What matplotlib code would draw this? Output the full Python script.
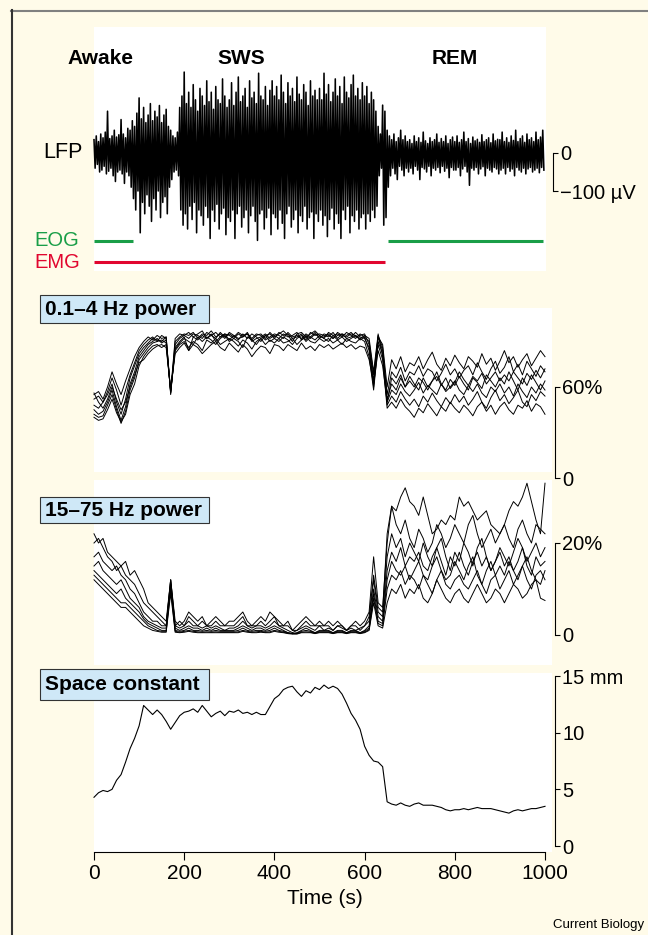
import numpy as np
import matplotlib.pyplot as plt
from matplotlib.patches import Rectangle
from matplotlib.lines import Line2D

plt.rcParams['font.family'] = ['Liberation Sans', 'DejaVu Sans']

# ---- datos ----
# LFP: envolvente (uV) en bins de 5 s
lfp_t = np.arange(0, 1000, 5)
lfp_hi = [35, 45, 30, 50, 40, 55, 110, 38, 45, 60, 42, 48, 88, 50, 40, 65, 60, 85, 70, 105,
          145, 90, 120, 80, 100, 130, 85, 110, 95, 125, 80, 100, 115, 70, 60, 45, 40, 55, 120, 150,
          213, 130, 160, 120, 180, 140, 110, 170, 150, 125, 190, 135, 160, 115, 175, 140, 130, 195, 150, 120,
          140, 185, 125, 160, 200, 135, 150, 170, 120, 190, 145, 160, 130, 210, 150, 140, 175, 125, 165, 190,
          150, 175, 140, 205, 160, 130, 185, 150, 170, 135, 200, 155, 140, 180, 160, 125, 190, 150, 165, 140,
          170, 140, 210, 155, 180, 135, 160, 195, 150, 175, 130, 200, 160, 145, 180, 205, 150, 170, 140, 185,
          150, 175, 130, 160, 140, 110, 70, 50, 126, 110, 60, 45, 35, 50, 30, 40, 60, 35, 45, 30,
          35, 25, 45, 30, 40, 28, 55, 32, 25, 40, 30, 35, 50, 28, 38, 30, 45, 25, 35, 42,
          30, 45, 28, 35, 55, 30, 38, 25, 42, 32, 36, 28, 48, 30, 35, 40, 27, 50, 32, 36,
          35, 55, 30, 40, 28, 45, 33, 60, 30, 38, 45, 28, 50, 35, 40, 30, 55, 35, 42, 60]
lfp_lo = [-40, -30, -50, -45, -35, -55, -48, -40, -60, -75, -50, -45, -55, -80, -50, -60, -90, -120, -150, -100,
          -210, -130, -160, -110, -140, -180, -120, -150, -100, -170, -130, -115, -160, -90, -70, -50, -45, -60, -150, -190,
          -160, -200, -140, -175, -130, -210, -150, -165, -190, -140, -170, -225, -150, -180, -135, -200, -160, -145, -215, -170,
          -180, -150, -225, -160, -140, -195, -170, -150, -210, -165, -140, -180, -230, -160, -150, -200, -170, -145, -215, -160,
          -170, -200, -150, -185, -225, -160, -140, -195, -175, -150, -210, -165, -180, -140, -200, -170, -155, -225, -160, -180,
          -150, -190, -165, -220, -175, -145, -200, -160, -185, -225, -150, -175, -140, -210, -165, -180, -150, -200, -170, -160,
          -200, -160, -180, -150, -170, -140, -60, -40, -190, -170, -90, -60, -40, -55, -70, -35, -45, -60, -40, -50,
          -40, -55, -35, -45, -70, -38, -42, -50, -35, -60, -40, -45, -38, -52, -35, -48, -40, -65, -38, -45,
          -45, -38, -60, -42, -35, -50, -85, -40, -45, -38, -55, -42, -36, -60, -40, -45, -50, -38, -42, -55,
          -45, -40, -55, -38, -48, -42, -60, -38, -45, -50, -40, -55, -42, -38, -50, -45, -40, -52, -38, -45]

# intervalos EOG / EMG (s)
eog_on = [(0, 87), (652, 996)]
emg_on = [(0, 645)]

# potencia 0.1-4 Hz (%), cada 10 s
t10 = np.arange(0, 1001, 10)
delta = [
    [55, 57, 52, 60, 70, 62, 55, 64, 72, 80, 86,
     90, 93, 91, 94, 92, 93, 57, 92, 95, 94,
     96, 93, 95, 97, 92, 94, 96, 93, 95, 94,
     92, 95, 93, 96, 91, 94, 95, 92, 96, 93,
     95, 97, 94, 90, 95, 96, 93, 95, 97, 94,
     92, 96, 94, 95, 93, 96, 94, 92, 95, 93,
     90, 68, 93, 88, 60, 78, 72, 80, 70, 76,
     74, 80, 72, 78, 83, 75, 71, 79, 74, 81,
     76, 72, 80, 77, 73, 82, 75, 79, 71, 77,
     84, 76, 80, 73, 78, 82, 74, 79, 84, 80],
    [52, 54, 50, 57, 66, 58, 48, 58, 68, 76, 84,
     88, 91, 93, 90, 94, 92, 56, 90, 93, 95,
     94, 96, 92, 95, 94, 97, 93, 95, 92, 96,
     94, 91, 95, 92, 95, 93, 90, 94, 95, 92,
     96, 94, 95, 92, 93, 95, 91, 96, 94, 95,
     94, 93, 96, 92, 95, 94, 96, 93, 94, 95,
     88, 64, 94, 86, 55, 70, 66, 73, 64, 70,
     68, 74, 67, 72, 70, 64, 69, 75, 68, 72,
     66, 71, 74, 68, 76, 70, 65, 72, 77, 69,
     73, 80, 70, 75, 68, 77, 72, 67, 74, 70],
    [48, 46, 50, 55, 62, 50, 42, 52, 66, 74, 82,
     86, 89, 92, 91, 90, 93, 55, 88, 92, 94,
     92, 95, 94, 92, 96, 94, 92, 96, 93, 95,
     93, 96, 94, 95, 92, 95, 94, 91, 93, 95,
     94, 92, 96, 93, 94, 92, 95, 93, 96, 92,
     95, 94, 92, 96, 94, 93, 95, 94, 92, 94,
     92, 70, 95, 80, 52, 62, 58, 66, 60, 67,
     62, 58, 66, 60, 64, 70, 62, 58, 65, 61,
     67, 62, 58, 66, 63, 59, 68, 64, 60, 66,
     62, 70, 64, 58, 66, 61, 68, 63, 58, 64],
    [45, 42, 44, 50, 58, 47, 38, 47, 62, 70, 80,
     84, 88, 90, 92, 89, 91, 56, 86, 90, 93,
     84, 93, 91, 94, 92, 95, 90, 93, 95, 91,
     94, 92, 93, 95, 90, 92, 93, 95, 92, 94,
     92, 95, 93, 94, 96, 91, 94, 92, 95, 93,
     93, 95, 92, 94, 95, 92, 93, 96, 93, 92,
     86, 62, 93, 84, 50, 58, 55, 62, 57, 54,
     58, 63, 56, 61, 58, 55, 62, 57, 60, 64,
     58, 55, 61, 57, 62, 56, 53, 60, 57, 62,
     56, 60, 54, 62, 57, 53, 60, 56, 62, 58],
    [42, 40, 41, 48, 55, 45, 36, 44, 58, 66, 78,
     82, 86, 89, 90, 91, 89, 57, 85, 89, 92,
     90, 88, 93, 90, 93, 91, 88, 92, 94, 90,
     92, 90, 86, 93, 91, 88, 92, 94, 90, 92,
     90, 93, 91, 88, 92, 94, 90, 93, 91, 94,
     92, 90, 94, 91, 93, 90, 92, 94, 91, 93,
     84, 60, 90, 82, 48, 54, 50, 57, 52, 48,
     52, 47, 54, 50, 56, 51, 47, 53, 49, 55,
     50, 54, 48, 52, 57, 50, 46, 53, 58, 51,
     55, 49, 53, 58, 50, 47, 55, 51, 57, 54],
    [40, 38, 39, 45, 52, 43, 37, 42, 55, 62, 74,
     80, 84, 87, 88, 86, 88, 58, 84, 88, 90,
     86, 90, 88, 84, 91, 89, 92, 88, 90, 92,
     90, 87, 91, 89, 85, 90, 92, 88, 91, 89,
     92, 89, 90, 92, 88, 91, 93, 90, 89, 92,
     90, 92, 89, 91, 88, 92, 90, 89, 92, 90,
     80, 58, 88, 78, 46, 50, 46, 52, 47, 44,
     40, 46, 43, 49, 45, 41, 47, 44, 50, 46,
     43, 48, 45, 41, 47, 50, 44, 48, 42, 47,
     50, 45, 42, 48, 46, 51, 44, 49, 47, 42],
    [56, 50, 46, 52, 60, 52, 45, 50, 60, 68, 76,
     78, 82, 85, 87, 88, 86, 58, 82, 86, 89,
     84, 88, 86, 82, 85, 88, 90, 86, 84, 89,
     86, 83, 88, 85, 80, 84, 87, 86, 82, 88,
     87, 84, 88, 86, 84, 89, 85, 87, 84, 88,
     86, 88, 85, 87, 89, 86, 88, 85, 87, 86,
     78, 62, 84, 74, 50, 66, 62, 68, 60, 64,
     60, 66, 63, 58, 64, 67, 61, 66, 59, 63,
     70, 65, 61, 67, 64, 69, 62, 66, 70, 64,
     68, 64, 70, 66, 62, 69, 65, 71, 66, 72],
]

# potencia 15-75 Hz (%), cada 10 s
gamma = [
    [22, 20, 21, 18, 17, 16, 15, 16, 13, 14, 12,
     10, 7, 6, 5, 4, 3, 12, 3, 2, 3,
     5, 4, 3, 4, 2, 3, 4, 3, 2, 3,
     3, 4, 5, 3, 2, 3, 4, 3, 5, 4,
     3, 2, 3, 1, 2, 3, 4, 3, 2, 3,
     2, 3, 2, 3, 2, 1, 2, 3, 2, 3,
     5, 17, 7, 6, 20, 28, 27, 30, 32, 29,
     28, 26, 30, 26, 22, 23, 25, 24, 26, 25,
     30, 28, 29, 27, 25, 26, 27, 24, 23, 22,
     24, 27, 29, 28, 30, 33, 29, 25, 22, 33],
    [20, 21, 19, 17, 16, 14, 15, 13, 12, 11, 9,
     7, 6, 5, 4, 3, 2, 12, 2, 3, 2,
     4, 3, 2, 3, 2, 2, 3, 2, 2, 2,
     2, 3, 4, 2, 2, 2, 3, 2, 3, 4,
     2, 2, 2, 1, 1, 2, 3, 2, 2, 2,
     2, 2, 1, 2, 2, 1, 2, 2, 1, 2,
     4, 13, 6, 5, 22, 28, 24, 22, 25, 21,
     19, 23, 21, 18, 20, 24, 22, 19, 21, 24,
     22, 20, 24, 26, 22, 19, 21, 23, 20, 22,
     24, 21, 19, 23, 25, 22, 20, 24, 23, 22],
    [17, 18, 16, 15, 14, 15, 13, 12, 10, 9, 7,
     5, 4, 3, 3, 2, 2, 12, 2, 1.5, 2,
     3, 2, 2, 1.5, 2, 1.5, 2, 1.5, 1, 1.5,
     1.5, 2, 3, 2, 1.5, 2, 2, 1.5, 2, 3,
     2, 1.5, 1, 0.5, 1, 1.5, 2, 1.5, 1, 2,
     1, 1.5, 1, 2, 1.5, 1, 1.5, 1, 1.5, 2,
     3, 12, 5, 4, 17, 22, 19, 21, 17, 20,
     18, 16, 20, 17, 15, 19, 21, 17, 14, 18,
     16, 20, 18, 15, 19, 21, 17, 14, 16, 19,
     17, 15, 18, 21, 19, 16, 18, 20, 17, 19],
    [15, 16, 14, 13, 12, 11, 12, 10, 8, 7, 6,
     4, 3, 2.5, 2, 1.5, 1.5, 11, 1.5, 1, 1.5,
     2, 1.5, 1.5, 1, 1.5, 1, 1.5, 1, 1, 1,
     1, 1.5, 2, 1.5, 1, 1.5, 1.5, 1, 1.5, 2,
     1.5, 1, 0.5, 0.3, 0.5, 1, 1.5, 1, 0.5, 1,
     1, 1, 0.5, 1, 1, 0.5, 1, 1, 0.5, 1,
     2, 10, 4, 3, 14, 18, 16, 19, 15, 17,
     16, 18, 15, 14, 17, 19, 16, 13, 17, 15,
     18, 15, 13, 16, 18, 15, 17, 14, 16, 18,
     15, 17, 14, 16, 19, 15, 13, 17, 15, 16],
    [14, 13, 12, 11, 10, 9, 10, 8, 7, 6, 5,
     3.5, 2.5, 2, 1.5, 1, 1, 11, 1, 0.8, 1,
     1.5, 1, 1, 0.8, 1, 0.8, 1, 0.8, 0.8, 0.8,
     0.8, 1, 1.5, 1, 0.8, 1, 1, 0.8, 1, 1.5,
     1, 0.8, 0.5, 0.3, 0.4, 0.8, 1, 0.8, 0.5, 0.8,
     0.8, 0.8, 0.5, 0.8, 0.8, 0.5, 0.8, 0.8, 0.5, 0.8,
     1.5, 9, 3, 2.5, 12, 16, 14, 13, 15, 12,
     14, 16, 13, 12, 15, 17, 14, 12, 13, 16,
     14, 12, 15, 17, 13, 11, 14, 16, 13, 15,
     13, 16, 14, 12, 15, 17, 14, 12, 11, 14],
    [13, 12, 11, 10, 9, 8, 7, 7, 6, 5, 4,
     3, 2, 1.5, 1, 0.8, 0.8, 10, 0.8, 0.6, 0.8,
     1, 0.8, 0.7, 0.6, 0.7, 0.6, 0.7, 0.6, 0.6, 0.6,
     0.6, 0.7, 1, 0.8, 0.6, 0.7, 0.8, 0.6, 0.7, 1,
     0.8, 0.6, 0.4, 0.3, 0.3, 0.6, 0.7, 0.6, 0.4, 0.6,
     0.6, 0.6, 0.4, 0.6, 0.6, 0.4, 0.6, 0.6, 0.4, 0.6,
     1.2, 8, 2.5, 2, 10, 13, 12, 14, 11, 13,
     12, 10, 13, 11, 9, 12, 14, 11, 10, 12,
     13, 11, 10, 12, 14, 11, 9, 12, 13, 10,
     12, 14, 11, 13, 15, 12, 10, 13, 14, 12],
    [12, 11, 10, 9, 8, 7, 6, 6, 5, 4, 3,
     2, 1.5, 1, 0.8, 0.6, 0.6, 9, 0.6, 0.5, 0.6,
     0.8, 0.6, 0.5, 0.5, 0.5, 0.5, 0.5, 0.5, 0.5, 0.5,
     0.5, 0.5, 0.8, 0.6, 0.5, 0.5, 0.6, 0.5, 0.5, 0.8,
     0.6, 0.5, 0.3, 0.2, 0.2, 0.5, 0.5, 0.5, 0.3, 0.5,
     0.5, 0.5, 0.3, 0.5, 0.5, 0.3, 0.5, 0.5, 0.3, 0.5,
     1, 7, 2, 1.5, 7, 10, 9, 11, 8, 10,
     9, 11, 8, 7, 9, 12, 10, 8, 7, 9,
     10, 8, 7, 9, 11, 9, 7, 8, 10, 9,
     7, 9, 11, 10, 8, 9, 11, 12, 8, 7.5],
]

# constante espacial (mm), cada 10 s
space = [4.3, 4.7, 4.9, 4.8, 5.0, 5.8, 6.3, 7.4, 8.6, 9.5, 10.6,
         12.4, 12.0, 11.6, 12.0, 11.6, 11.0, 10.3, 10.9, 11.5, 11.8,
         11.9, 12.1, 11.8, 12.4, 11.9, 11.4, 11.7, 11.9, 11.5, 11.9,
         11.8, 12.0, 11.7, 11.8, 11.6, 11.8, 11.6, 11.6, 12.3, 13.0,
         13.3, 13.8, 14.0, 14.1, 13.6, 13.2, 13.7, 13.5, 14.0, 13.8,
         14.2, 13.9, 14.1, 13.9, 13.4, 12.6, 11.7, 11.1, 10.3, 8.8,
         8.0, 7.5, 7.4, 7.0, 3.9, 3.7, 3.6, 3.8, 3.6, 3.5,
         3.7, 3.8, 3.6, 3.6, 3.6, 3.5, 3.4, 3.2, 3.1, 3.2,
         3.2, 3.3, 3.2, 3.3, 3.4, 3.3, 3.3, 3.3, 3.2, 3.1,
         3.0, 2.9, 3.1, 3.2, 3.1, 3.2, 3.3, 3.3, 3.4, 3.5]

estados = ['Awake', 'SWS', 'REM']
estados_x = [100, 241, 455]

# ---- figura ----
W, H = 648, 935
CREMA = '#fffbe9'
AZUL = '#cfe8f7'
VERDE = '#1a9e48'
ROJO = '#e1062f'

fig = plt.figure(figsize=(W / 100, H / 100), dpi=100, facecolor=CREMA)


def fx(x):
    return x / W


def fy(y):
    return 1 - y / H


def caja(x0, y0, x1, y1, color, borde='none', z=-1):
    fig.add_artist(Rectangle((fx(x0), fy(y1)), (x1 - x0) / W, (y1 - y0) / H,
                             transform=fig.transFigure, facecolor=color,
                             edgecolor=borde, lw=0.8, zorder=z))


def panel(y_arriba, y_abajo, v_arriba, v_abajo, x_eje):
    ax = fig.add_axes([fx(94), fy(y_abajo), (545 - 94) / W, (y_abajo - y_arriba) / H])
    ax.set_xlim(0, 1000)
    ax.set_ylim(v_abajo, v_arriba)
    ax.patch.set_visible(False)
    for s in ['top', 'left', 'bottom']:
        ax.spines[s].set_visible(False)
    ax.spines['right'].set_position(('data', x_eje))
    ax.spines['right'].set_linewidth(0.8)
    ax.yaxis.tick_right()
    ax.tick_params(axis='y', direction='out', length=3.6, width=0.8, pad=1.5, labelsize=14.5)
    ax.set_xticks([])
    return ax


# bordes del marco
fig.add_artist(Line2D([fx(11), 1], [fy(10.5), fy(10.5)], transform=fig.transFigure, color='#808080', lw=1.5))
fig.add_artist(Line2D([fx(11.5), fx(11.5)], [fy(10), 0], transform=fig.transFigure, color='#333333', lw=1.5))

# paneles blancos
caja(94, 27, 546, 271, 'white')
caja(94, 308, 552, 472, 'white')
caja(94, 480, 552, 665, 'white')
caja(94, 673, 552, 852, 'white')

# LFP
ax1 = panel(153, 191, 0, -100, 1017.7)
zz_t = np.ravel(np.column_stack([lfp_t, lfp_t + 2.5]))
zz_v = np.ravel(np.column_stack([lfp_hi, lfp_lo]))
ax1.plot(zz_t, zz_v, color='black', lw=1.15, clip_on=False)
ax1.spines['right'].set_bounds(-100, 0)
ax1.set_yticks([0, -100])
ax1.set_yticklabels(['0', '\u2212100 \u00b5V'])
for a, b in eog_on:
    ax1.plot([a, b], [-231, -231], color=VERDE, lw=2.2, clip_on=False, solid_capstyle='butt')
for a, b in emg_on:
    ax1.plot([a, b], [-287, -287], color=ROJO, lw=2.2, clip_on=False, solid_capstyle='butt')

for s, x in zip(estados, estados_x):
    fig.text(fx(x), fy(58), s, ha='center', va='center', fontsize=15, fontweight='bold')
fig.text(fx(83), fy(152), 'LFP', ha='right', va='center', fontsize=15.5)
fig.text(fx(79), fy(241), 'EOG', ha='right', va='center', fontsize=14.5, color=VERDE)
fig.text(fx(80), fy(262), 'EMG', ha='right', va='center', fontsize=14.5, color=ROJO)

# 0.1-4 Hz
ax2 = panel(387, 478, 60, 0, 1022)
for tr in delta:
    ax2.plot(t10, tr, color='black', lw=0.7, clip_on=False)
ax2.spines['right'].set_bounds(0, 60)
ax2.set_yticks([0, 60])
ax2.set_yticklabels(['0', '60%'])

# 15-75 Hz
ax3 = panel(543, 635, 20, 0, 1022)
for tr in gamma:
    ax3.plot(t10, tr, color='black', lw=0.7, clip_on=False)
ax3.spines['right'].set_bounds(0, 20)
ax3.set_yticks([0, 20])
ax3.set_yticklabels(['0', '20%'])

# constante espacial
ax4 = panel(676, 846, 15, 0, 1022)
ax4.plot(t10, space, color='black', lw=0.8, clip_on=False)
ax4.spines['right'].set_bounds(0, 15)
ax4.set_yticks([0, 5, 10, 15])
ax4.set_yticklabels(['0', '5', '10', '15 mm'])
ax4.spines['bottom'].set_visible(True)
ax4.spines['bottom'].set_position(('outward', 4.3))
ax4.spines['bottom'].set_bounds(0, 1000)
ax4.spines['bottom'].set_linewidth(0.8)
ax4.set_xticks(np.arange(0, 1001, 200))
ax4.tick_params(axis='x', direction='out', length=5.5, width=0.8, pad=3, labelsize=15)
fig.text(fx(325), fy(899), 'Time (s)', ha='center', va='center', fontsize=15)

# etiquetas en cajas azules
for txt, y0, y1 in [('0.1\u20134 Hz power', 295, 323), ('15\u201375 Hz power', 497, 523),
                    ('Space constant', 669, 700)]:
    caja(40, y0, 209, y1, AZUL, borde='#333333', z=3)
    fig.text(fx(45), fy((y0 + y1) / 2), txt, ha='left', va='center', fontsize=15,
             fontweight='bold', zorder=4)

fig.text(fx(644), fy(925), 'Current Biology', ha='right', va='center', fontsize=9.5)

plt.savefig('out.png', dpi=100, facecolor=fig.get_facecolor())
